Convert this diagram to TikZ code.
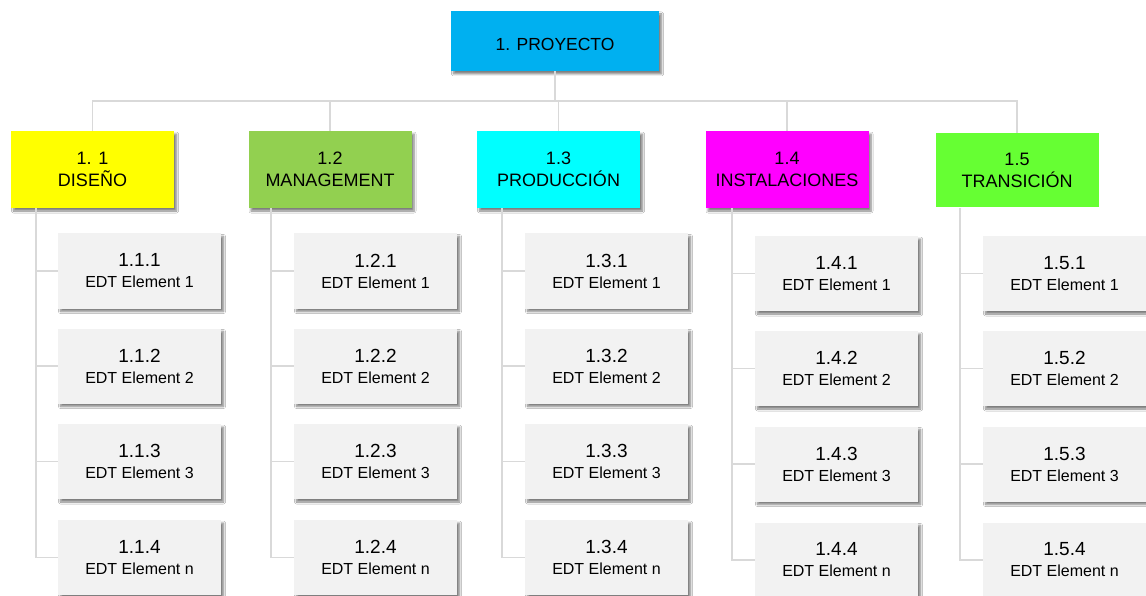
\documentclass[tikz,border=0pt]{standalone}
\usepackage{fontspec}
\setmainfont{Liberation Sans}
\usetikzlibrary{shadows.blur}
\definecolor{projblue}{HTML}{00B0F0}
\definecolor{phaseA}{HTML}{FFFF00}
\definecolor{phaseB}{HTML}{92D050}
\definecolor{phaseC}{HTML}{00FFFF}
\definecolor{phaseD}{HTML}{FF00FF}
\definecolor{phaseE}{HTML}{66FF33}
\definecolor{taskgray}{HTML}{F2F2F2}
\definecolor{linegray}{HTML}{D9D9D9}
\newcommand\wbsnum[1]{{\fontsize{19}{22}\selectfont #1}}
\begin{document}
\begin{tikzpicture}[x=1pt,y=-1pt,
  shade box/.style={blur shadow={shadow xshift=2.5pt,shadow yshift=-3pt,
      shadow blur steps=6,shadow blur radius=2pt,shadow opacity=50}},
  box/.style={rectangle,inner sep=0pt,text=black,align=center},
  topbox/.style={box,shade box,fill=projblue,minimum width=208pt,minimum height=60pt},
  phase/.style={box,minimum width=163pt,minimum height=77pt,
      font=\fontsize{18}{22}\selectfont},
  task/.style={box,shade box,fill=taskgray,minimum width=163pt,minimum height=75pt,
      font=\fontsize{16}{21}\selectfont},
  link/.style={draw=linegray,line width=1.3pt}]
\useasboundingbox[fill=white] (0,0) rectangle (1146,596);

% project root
\node[topbox,label={[font=\fontsize{17.5}{20}\selectfont,yshift=-3.5pt]center:1. PROYECTO}]
  (root) at (555,41) {};
\coordinate (hub) at (555,101);

% phases
\node[phase,shade box,fill=phaseA] (p1) at (92.5,169.5) {1. 1\\DISEÑO};
\node[phase,shade box,fill=phaseB] (p2) at (330,169.5) {1.2\\MANAGEMENT};
\node[phase,shade box,fill=phaseC] (p3) at (558.5,169.5) {1.3\\PRODUCCIÓN};
\node[phase,shade box,fill=phaseD] (p4) at (787,169.5) {1.4\\INSTALACIONES};
\node[phase,fill=phaseE,minimum height=74pt] (p5) at (1017,170) {1.5\\TRANSICIÓN};

% root connectors
\draw[link] (root.south) -- (hub);
\draw[link] (p1.north) -- (p1.north |- hub) -- (p5.north |- hub) -- (p5.north);
\foreach \p in {p2,p3,p4} \draw[link] (\p.north) -- (\p.north |- hub);

% trunk coordinates below each phase
\coordinate (t1) at (36,208);
\coordinate (t2) at (271,208);
\coordinate (t3) at (502,208);
\coordinate (t4) at (732,208);
\coordinate (t5) at (960,208);

% work packages
\foreach \c/\x/\dy in {1/139.5/0, 2/375.5/0, 3/606.5/0, 4/836.5/2.5, 5/1064.5/2.5}{
  \node[task] (w\c a) at (\x,271+\dy) {\wbsnum{1.\c.1}\\EDT Element 1};
  \node[task] (w\c b) at (\x,366+\dy) {\wbsnum{1.\c.2}\\EDT Element 2};
  \node[task] (w\c c) at (\x,461.5+\dy) {\wbsnum{1.\c.3}\\EDT Element 3};
  \node[task] (w\c d) at (\x,557.5+\dy) {\wbsnum{1.\c.4}\\EDT Element n};
  \draw[link] (t\c) |- (w\c d.west);
  \draw[link] (w\c a.west) -- (w\c a.west -| t\c);
  \draw[link] (w\c b.west) -- (w\c b.west -| t\c);
  \draw[link] (w\c c.west) -- (w\c c.west -| t\c);
}
\end{tikzpicture}
\end{document}
